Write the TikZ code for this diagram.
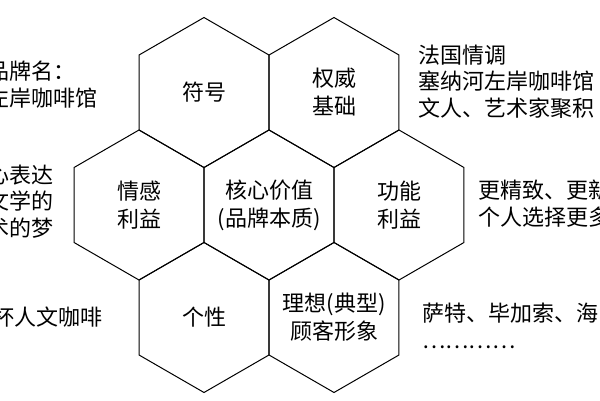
\documentclass[tikz,border=0pt]{standalone}
\usepackage{fontspec}
\setmainfont{Noto Sans CJK SC}
\begin{document}
\begin{tikzpicture}[x=1pt,y=-1pt,
  hexa/.style={circle, minimum size=130pt, inner sep=0pt, align=center,
    font=\fontsize{22}{28}\selectfont},
  hexline/.style={draw, line width=1pt, line join=miter},
  side/.style={anchor=west, inner sep=0pt, align=left,
    font=\fontsize{22}{26.5}\selectfont}]
\useasboundingbox (0,0) rectangle (600,400);
\fill[white] (0,0) rectangle (600,400);
% hexagon centres with labels
\node[hexa] (fuhao)    at (204,92.5)  {符号};
\node[hexa] (quanwei)  at (334,92.5)  {权威\\基础};
\node[hexa] (qinggan)  at (139,205)   {情感\\利益};
\node[hexa] (hexin)    at (269,205)   {核心价值\\(品牌本质)};
\node[hexa] (gongneng) at (399,205)   {功能\\利益};
\node[hexa] (gexing)   at (204,317.5) {个性};
\node[hexa] (lixiang)  at (334,317.5) {理想(典型)\\顾客形象};
% hexagon outlines
\foreach \n in {fuhao,quanwei,qinggan,hexin,gongneng,gexing,lixiang}
  \path[hexline] ([shift={(90:75)}]\n.center) -- ([shift={(150:75)}]\n.center)
    -- ([shift={(210:75)}]\n.center) -- ([shift={(270:75)}]\n.center)
    -- ([shift={(330:75)}]\n.center) -- ([shift={(30:75)}]\n.center) -- cycle;
% side texts
\node[side] (l1) at (-13,84.5)  {品牌名：\\左岸咖啡馆};
\node[side] (l2) at (-13,201.5) {心表达\\文学的\\术的梦};
\node[side] (l3) at (-8,317)    {杯人文咖啡};
\node[side] (r1) at (418,81.5)  {法国情调\\塞纳河左岸咖啡馆\\文人、艺术家聚积};
\node[side] (r2) at (478,203.5) {更精致、更新\\个人选择更多};
\node[side] (r3) at (422,326)   {萨特、毕加索、海\\…………};
\end{tikzpicture}
\end{document}
